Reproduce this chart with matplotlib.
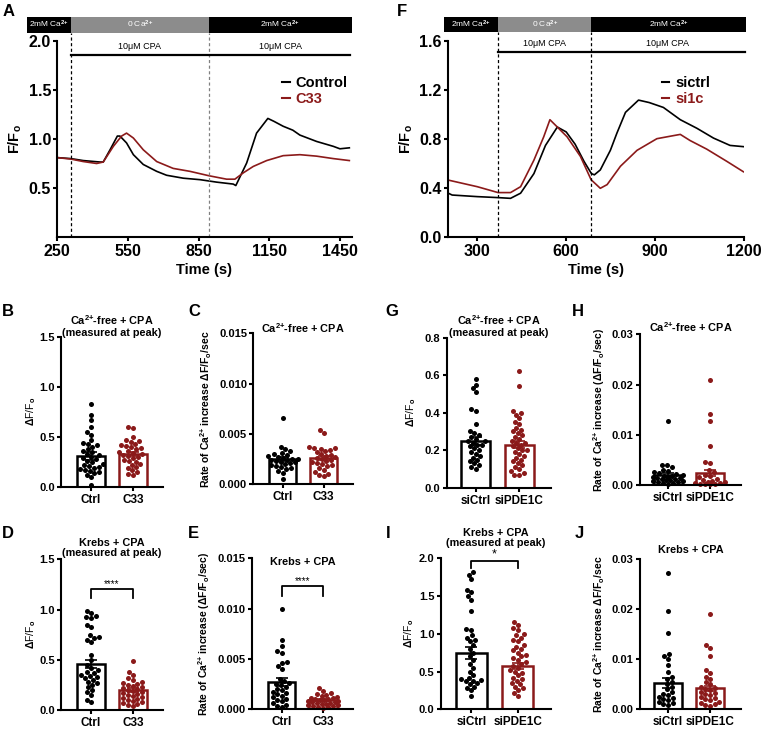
import matplotlib.pyplot as plt
import numpy as np
import matplotlib as mpl
from matplotlib.patches import Rectangle
from matplotlib.lines import Line2D

mpl.rcParams.update({
    'font.family': ['Liberation Sans', 'DejaVu Sans'],
    'font.weight': 'bold',
    'mathtext.fontset': 'custom',
    'mathtext.rm': 'Liberation Sans',
    'mathtext.bf': 'Liberation Sans:bold',
    'mathtext.it': 'Liberation Sans:italic',
    'axes.linewidth': 1.5,
    'xtick.major.width': 1.5,
    'ytick.major.width': 1.5,
    'xtick.major.size': 3,
    'ytick.major.size': 3,
    'xtick.major.pad': 2,
    'ytick.major.pad': 1.5,
})

RED = '#8b1a1a'
W, H = 762, 730

# ---------------- trace data (panel A) ----------------
a_t_ctrl = [250, 308, 360, 431, 445, 474, 505, 516, 544, 573, 615, 672, 714, 785, 856, 926,
            997, 1008, 1054, 1096, 1144, 1170, 1209, 1250, 1280, 1351, 1422, 1450, 1490]
a_ctrl = [0.81, 0.80, 0.78, 0.765, 0.765, 0.89, 1.03, 1.03, 0.96, 0.84, 0.74, 0.67, 0.63, 0.60,
          0.585, 0.56, 0.54, 0.525, 0.755, 1.06, 1.21, 1.18, 1.13, 1.09, 1.04, 0.975, 0.925, 0.90, 0.91]
a_t_c33 = [250, 308, 360, 417, 445, 488, 523, 544, 573, 615, 672, 742, 813, 894, 969, 1004,
           1040, 1082, 1139, 1209, 1280, 1351, 1422, 1490]
a_c33 = [0.81, 0.795, 0.77, 0.75, 0.765, 0.925, 1.03, 1.06, 1.01, 0.89, 0.77, 0.70, 0.67, 0.625,
         0.59, 0.59, 0.655, 0.72, 0.78, 0.83, 0.84, 0.825, 0.80, 0.78]

# ---------------- trace data (panel F) ----------------
f_t_ctrl = [202, 215, 300, 370, 412, 446, 491, 530, 570, 600, 630, 660, 685, 695, 715, 749, 771,
            800, 844, 880, 928, 985, 1041, 1097, 1153, 1198]
f_ctrl = [0.36, 0.345, 0.332, 0.324, 0.318, 0.36, 0.52, 0.75, 0.90, 0.86, 0.76, 0.62, 0.52, 0.51,
          0.55, 0.71, 0.85, 1.02, 1.12, 1.10, 1.06, 0.96, 0.89, 0.81, 0.75, 0.74]
f_t_si1c = [202, 300, 370, 412, 446, 491, 524, 545, 570, 603, 648, 684, 715, 738, 783, 839, 906,
            962, 985, 1018, 1074, 1142, 1198]
f_si1c = [0.467, 0.413, 0.365, 0.365, 0.413, 0.63, 0.82, 0.96, 0.90, 0.82, 0.66, 0.47, 0.40, 0.43,
          0.58, 0.71, 0.805, 0.83, 0.84, 0.79, 0.72, 0.62, 0.535]

# ---------------- scatter/bar data ----------------
b_ctrl = [0.83, 0.72, 0.67, 0.60, 0.55, 0.52, 0.47, 0.44, 0.43, 0.42, 0.40, 0.38, 0.36, 0.35, 0.33,
          0.32, 0.30, 0.29, 0.28, 0.26, 0.25, 0.23, 0.22, 0.21, 0.20, 0.19, 0.18, 0.17, 0.16, 0.15,
          0.14, 0.12, 0.10, 0.02]
b_c33 = [0.60, 0.59, 0.50, 0.47, 0.46, 0.45, 0.43, 0.42, 0.41, 0.40, 0.39, 0.38, 0.36, 0.35, 0.34,
         0.33, 0.32, 0.31, 0.30, 0.29, 0.27, 0.26, 0.25, 0.23, 0.22, 0.20, 0.19, 0.17, 0.15, 0.13, 0.12]
c_ctrl = [0.0066, 0.0037, 0.0035, 0.0033, 0.0031, 0.0030, 0.0029, 0.0028, 0.0027, 0.0026, 0.0025,
          0.0025, 0.0024, 0.0024, 0.0023, 0.0022, 0.0022, 0.0021, 0.0020, 0.0019, 0.0018, 0.0017,
          0.0016, 0.0015, 0.0013, 0.0011, 0.0005]
c_c33 = [0.0054, 0.0051, 0.0037, 0.0036, 0.0036, 0.0035, 0.0034, 0.0033, 0.0032, 0.0030, 0.0029,
         0.0028, 0.0027, 0.0026, 0.0025, 0.0024, 0.0023, 0.0022, 0.0021, 0.0020, 0.0019, 0.0018,
         0.0016, 0.0014, 0.0012, 0.0010, 0.0009, 0.0008]
d_ctrl = [0.99, 0.97, 0.94, 0.93, 0.92, 0.85, 0.83, 0.75, 0.73, 0.72, 0.70, 0.68, 0.55, 0.50, 0.45,
          0.42, 0.40, 0.38, 0.37, 0.35, 0.34, 0.33, 0.32, 0.30, 0.28, 0.27, 0.25, 0.23, 0.20, 0.18,
          0.15, 0.10, 0.08]
d_c33 = [0.49, 0.38, 0.35, 0.32, 0.30, 0.28, 0.27, 0.26, 0.25, 0.24, 0.23, 0.22, 0.21, 0.20, 0.19,
         0.18, 0.17, 0.16, 0.15, 0.14, 0.13, 0.12, 0.11, 0.10, 0.09, 0.08, 0.07, 0.06, 0.05, 0.04]
e_ctrl = [0.0100, 0.0069, 0.0063, 0.0058, 0.0056, 0.0047, 0.0046, 0.0043, 0.0040, 0.0030, 0.0028,
          0.0026, 0.0025, 0.0024, 0.0022, 0.0020, 0.0019, 0.0017, 0.0016, 0.0015, 0.0013, 0.0012,
          0.0010, 0.0009, 0.0008, 0.0006, 0.0004, 0.0003, 0.0002]
e_c33 = [0.0021, 0.0018, 0.0016, 0.0015, 0.0014, 0.0013, 0.0012, 0.0011, 0.0011, 0.0010, 0.0010,
         0.0009, 0.0009, 0.0008, 0.0008, 0.0007, 0.0007, 0.0006, 0.0006, 0.0005, 0.0005, 0.0004,
         0.0004, 0.0003, 0.0003, 0.0002, 0.0002, 0.0001]
g_ctrl = [0.58, 0.55, 0.53, 0.51, 0.42, 0.41, 0.34, 0.30, 0.29, 0.28, 0.27, 0.26, 0.25, 0.25, 0.24,
          0.23, 0.23, 0.22, 0.21, 0.20, 0.19, 0.18, 0.17, 0.16, 0.15, 0.14, 0.13, 0.12, 0.11, 0.10]
g_pde = [0.62, 0.54, 0.41, 0.40, 0.39, 0.37, 0.35, 0.34, 0.32, 0.31, 0.30, 0.29, 0.28, 0.27, 0.26,
         0.25, 0.24, 0.24, 0.23, 0.22, 0.21, 0.20, 0.20, 0.19, 0.18, 0.17, 0.16, 0.15, 0.14, 0.13,
         0.12, 0.11, 0.10, 0.09, 0.08, 0.07, 0.07]
h_ctrl = [0.0127, 0.0040, 0.0039, 0.0035, 0.0030, 0.0028, 0.0025, 0.0023, 0.0021, 0.0020, 0.0018,
          0.0017, 0.0016, 0.0015, 0.0014, 0.0013, 0.0012, 0.0011, 0.0010, 0.0009, 0.0008, 0.0007,
          0.0006, 0.0005, 0.0004, 0.0003, 0.0002]
h_pde = [0.0210, 0.0141, 0.0128, 0.0078, 0.0046, 0.0044, 0.0030, 0.0025, 0.0020, 0.0018, 0.0015,
         0.0012, 0.0010, 0.0008, 0.0006, 0.0005, 0.0004, 0.0003, 0.0002, 0.0002, 0.0001, 0.0001]
i_ctrl = [1.82, 1.78, 1.72, 1.58, 1.55, 1.50, 1.45, 1.30, 1.06, 1.05, 0.98, 0.95, 0.92, 0.90, 0.85,
          0.80, 0.75, 0.70, 0.65, 0.60, 0.55, 0.50, 0.45, 0.42, 0.40, 0.39, 0.38, 0.37, 0.35, 0.33,
          0.30, 0.28, 0.25, 0.18]
i_pde = [1.16, 1.12, 1.08, 1.05, 1.00, 0.98, 0.95, 0.92, 0.90, 0.85, 0.83, 0.80, 0.78, 0.75, 0.72,
         0.70, 0.68, 0.65, 0.62, 0.60, 0.58, 0.55, 0.52, 0.50, 0.48, 0.45, 0.42, 0.40, 0.38, 0.35,
         0.33, 0.30, 0.28, 0.25, 0.22, 0.18]
j_ctrl = [0.0273, 0.0196, 0.0152, 0.0110, 0.0106, 0.0100, 0.0088, 0.0075, 0.0065, 0.0060, 0.0055,
          0.0050, 0.0045, 0.0040, 0.0035, 0.0030, 0.0028, 0.0025, 0.0022, 0.0020, 0.0018, 0.0015,
          0.0012, 0.0010, 0.0008]
j_pde = [0.0190, 0.0128, 0.0123, 0.0107, 0.0078, 0.0072, 0.0065, 0.0060, 0.0055, 0.0050, 0.0045,
         0.0042, 0.0040, 0.0038, 0.0035, 0.0032, 0.0030, 0.0028, 0.0025, 0.0022, 0.0020, 0.0018,
         0.0015, 0.0012, 0.0010, 0.0008, 0.0006]

# bar means and SEMs
b_mean, b_sem = [0.31, 0.33], [0.04, 0.02]
c_mean, c_sem = [0.0025, 0.0026], [0.0002, 0.0002]
d_mean, d_sem = [0.46, 0.20], [0.04, 0.02]
e_mean, e_sem = [0.0027, 0.0009], [0.0004, 0.0001]
g_mean, g_sem = [0.25, 0.23], [0.02, 0.02]
h_mean, h_sem = [0.0020, 0.0024], [0.0004, 0.0006]
i_mean, i_sem = [0.74, 0.57], [0.08, 0.04]
j_mean, j_sem = [0.0052, 0.0042], [0.0010, 0.0005]

fig = plt.figure(figsize=(W / 100, H / 100), dpi=100)


def px_axes(l, r, t, b):
    return fig.add_axes([l / W, 1 - b / H, (r - l) / W, (b - t) / H])


def letter(x, y, s):
    fig.text(x / W, 1 - y / H, s, fontsize=12, fontweight='bold', va='center', ha='left')


def clean(ax):
    ax.spines['top'].set_visible(False)
    ax.spines['right'].set_visible(False)


# ---------------- trace panels ----------------
def trace_panel(ax, xlim, ylim, xticks, yticks, ylabs, segs, dash, dash_cols, cpa_y, bar_y0, bar_y1):
    clean(ax)
    ax.set_xlim(*xlim)
    ax.set_ylim(*ylim)
    ax.set_xticks(xticks)
    ax.set_xticklabels([str(v) for v in xticks], fontsize=11.5, fontweight='bold')
    ax.set_yticks(yticks)
    ax.set_yticklabels(ylabs, fontsize=11.5, fontweight='bold')
    ax.set_xlabel('Time (s)', fontsize=10.5, fontweight='bold', labelpad=3)
    ax.set_ylabel(r'F/F$_\mathbf{o}$', fontsize=10.5, fontweight='bold', labelpad=3)
    # solution bar on top
    labels = [r'2mM Ca$^{2{+}}$', r'0 Ca$^{2{+}}$', r'2mM Ca$^{2{+}}$']
    cols = ['black', '#8c8c8c', 'black']
    for (x0, x1), lab, c in zip(segs, labels, cols):
        ax.add_patch(Rectangle((x0, bar_y0), x1 - x0, bar_y1 - bar_y0, color=c, clip_on=False, lw=0))
        ax.text((x0 + x1) / 2, (bar_y0 + bar_y1) / 2, lab, color='white', fontsize=6,
                fontweight='normal', ha='center', va='center', clip_on=False)
    for x, c in zip(dash, dash_cols):
        ax.plot([x, x], [ylim[0], bar_y0], color=c, lw=0.9, ls=(0, (2.5, 2)), clip_on=False)
    ax.plot([dash[0], segs[-1][1] - (xlim[1] - xlim[0]) * 0.005], [cpa_y, cpa_y], color='black',
            lw=1.6, clip_on=False)
    dy = (ylim[1] - ylim[0]) * 0.045
    for x0, x1 in [(dash[0], dash[1]), (dash[1], xlim[1])]:
        ax.text((x0 + x1) / 2, cpa_y + dy, '10\u03bcM CPA', fontsize=6.5, fontweight='normal',
                ha='center', va='center')


axA = px_axes(57.3, 351.7, 41, 237)
axA.plot(a_t_ctrl, a_ctrl, color='black', lw=1.2)
axA.plot(a_t_c33, a_c33, color=RED, lw=1.2)
trace_panel(axA, (250, 1500), (0, 2.0), [250, 550, 850, 1150, 1450], [0.5, 1.0, 1.5, 2.0],
            ['0.5', '1.0', '1.5', '2.0'], [(123, 308), (308, 894), (894, 1500)], [308, 894],
            ['black', 'gray'], 1.857, 2.085, 2.248)
axA.legend([Line2D([], [], color='black', lw=1.5), Line2D([], [], color=RED, lw=1.5)],
           ['Control', 'C33'], loc='upper right', bbox_to_anchor=(1.03, 0.89), frameon=False,
           handlelength=0.5, handletextpad=0.4, labelspacing=0.15, labelcolor=['black', RED],
           prop={'size': 10.5, 'weight': 'bold'})

axF = px_axes(447.7, 744, 41.3, 237.3)
axF.plot(f_t_ctrl, f_ctrl, color='black', lw=1.2)
axF.plot(f_t_si1c, f_si1c, color=RED, lw=1.2)
trace_panel(axF, (200, 1200), (0, 1.6), [300, 600, 900, 1200], [0.0, 0.4, 0.8, 1.2, 1.6],
            ['0.0', '0.4', '0.8', '1.2', '1.6'], [(188, 370), (370, 685), (685, 1207)], [370, 685],
            ['black', 'black'], 1.51, 1.673, 1.80)
axF.legend([Line2D([], [], color='black', lw=1.5), Line2D([], [], color=RED, lw=1.5)],
           ['sictrl', 'si1c'], loc='upper right', bbox_to_anchor=(0.93, 0.89), frameon=False,
           handlelength=0.5, handletextpad=0.4, labelspacing=0.15, labelcolor=['black', RED],
           prop={'size': 10.5, 'weight': 'bold'})


# ---------------- bar + scatter panels ----------------
def swarm(vals, px_per_y, d=4.8, lim=15.0):
    # place points one by one, nearest to the centre line without overlap (bounded width)
    placed = []
    offs = np.zeros(len(vals))
    cands = sorted(np.arange(-lim, lim + 0.01, 0.5), key=abs)
    for i in np.argsort(vals):
        y = vals[i] * px_per_y
        best, best_d = 0.0, -1.0
        for c in cands:
            md = min([np.hypot(c - px, y - py) for px, py in placed] + [99.0])
            if md >= d:
                best = c
                break
            if md > best_d:
                best, best_d = c, md
        offs[i] = best
        placed.append((best, y))
    return offs


def bar_panel(box, groups, means, sems, names, ymax, yticks, fmt, ylabel, ylabel_bold,
              title, title_y, xlim, label_x):
    l, r, t, b = box
    ax = px_axes(l, r, t, b)
    clean(ax)
    ax.set_xlim(*xlim)
    ax.set_ylim(0, ymax)
    px_per_x = (r - l) / (xlim[1] - xlim[0])
    px_per_y = (b - t) / ymax
    for k, (vals, m, s, c) in enumerate(zip(groups, means, sems, ['black', RED])):
        ax.bar(k, m, width=0.66, facecolor='white', edgecolor=c, lw=1.8, zorder=1)
        offs = swarm(np.asarray(vals), px_per_y)
        ax.scatter(k + offs / px_per_x, vals, s=13, color=c, lw=0, zorder=2, clip_on=False)
        ax.errorbar(k, m, yerr=s, color=c, lw=1.2, capsize=4, capthick=1.2, zorder=3)
    ax.set_xticks([0, 1])
    ax.set_xticklabels(names, fontsize=8.5, fontweight='bold')
    ax.set_yticks(yticks)
    ax.set_yticklabels([fmt.format(v) for v in yticks], fontsize=8, fontweight='bold')
    ax.text(0.5, title_y, title, transform=ax.transAxes, ha='center', va='center', fontsize=7.8,
            fontweight='bold', linespacing=1.05)
    fig.text(label_x / W, 1 - (t + b) / 2 / H, ylabel, rotation=90, ha='center', va='center',
             fontsize=7.5, fontweight='bold' if ylabel_bold else 'normal')
    return ax


def bracket(ax, y, tip, txt, size=7):
    ax.plot([0, 0, 1, 1], [tip, y, y, tip], color='black', lw=1.3, clip_on=False)
    ax.text(0.5, y, txt, ha='center', va='bottom', fontsize=size, fontweight='normal')


dff = r'$\Delta$F/F$_\mathrm{o}$'
rate1 = r'Rate of Ca$^{\mathbf{2{+}}}$ increase $\Delta$F/F$_\mathbf{o}$/sec'
rate2 = r'Rate of Ca$^{\mathbf{2{+}}}$ increase ($\Delta$F/F$_\mathbf{o}$/sec)'
t_free_peak = 'Ca$^{\\mathbf{2{+}}}$-free + CPA\n(measured at peak)'
t_free = 'Ca$^{\\mathbf{2{+}}}$-free + CPA'
t_krebs_peak = 'Krebs + CPA\n(measured at peak)'
t_krebs = 'Krebs + CPA'
xl1 = (-0.72, 1.72)
xl2 = (-0.66, 1.72)

bar_panel((61, 163, 336.7, 486.7), [b_ctrl, b_c33], b_mean, b_sem, ['Ctrl', 'C33'], 1.5,
          [0, 0.5, 1.0, 1.5], '{:.1f}', dff, False, t_free_peak, 1.075, xl1, 31)
bar_panel((253.3, 353, 333.3, 484.3), [c_ctrl, c_c33], c_mean, c_sem, ['Ctrl', 'C33'], 0.015,
          [0, 0.005, 0.010, 0.015], '{:.3f}', rate1, True, t_free, 1.035, xl1, 206)
axD = bar_panel((61, 163, 559.3, 710), [d_ctrl, d_c33], d_mean, d_sem, ['Ctrl', 'C33'], 1.5,
                [0, 0.5, 1.0, 1.5], '{:.1f}', dff, False, t_krebs_peak, 1.073, xl1, 31)
bracket(axD, 1.2, 1.11, '****')
axE = bar_panel((251.7, 353, 558.3, 709.3), [e_ctrl, e_c33], e_mean, e_sem, ['Ctrl', 'C33'], 0.015,
                [0, 0.005, 0.010, 0.015], '{:.3f}', rate2, True, t_krebs, 0.977, xl1, 204)
bracket(axE, 0.0122, 0.0113, '****')
bar_panel((446.7, 551, 337.7, 487.7), [g_ctrl, g_pde], g_mean, g_sem, ['siCtrl', 'siPDE1C'], 0.8,
          [0, 0.2, 0.4, 0.6, 0.8], '{:.1f}', dff, False, t_free_peak, 1.081, xl2, 411)
bar_panel((640, 741, 334.3, 485), [h_ctrl, h_pde], h_mean, h_sem, ['siCtrl', 'siPDE1C'], 0.03,
          [0, 0.01, 0.02, 0.03], '{:.2f}', rate2, True, t_free, 1.05, xl2, 599)
axI = bar_panel((440.7, 551, 558.3, 709.3), [i_ctrl, i_pde], i_mean, i_sem, ['siCtrl', 'siPDE1C'], 2.0,
                [0, 0.5, 1.0, 1.5, 2.0], '{:.1f}', dff, False, t_krebs_peak, 1.136, xl2, 409)
bracket(axI, 1.97, 1.87, '*', size=9)
bar_panel((640, 741, 559.3, 709.3), [j_ctrl, j_pde], j_mean, j_sem, ['siCtrl', 'siPDE1C'], 0.03,
          [0, 0.01, 0.02, 0.03], '{:.2f}', rate1, True, t_krebs, 1.062, xl2, 599)

# panel letters
for x, y, s in [(3, 11, 'A'), (397, 11, 'F'), (2, 312, 'B'), (188, 312, 'C'), (385, 312, 'G'),
                (572, 312, 'H'), (2, 533, 'D'), (188, 533, 'E'), (386, 533, 'I'), (575, 533, 'J')]:
    letter(x, y, s)

plt.savefig('out.png', dpi=100)
plt.close()
